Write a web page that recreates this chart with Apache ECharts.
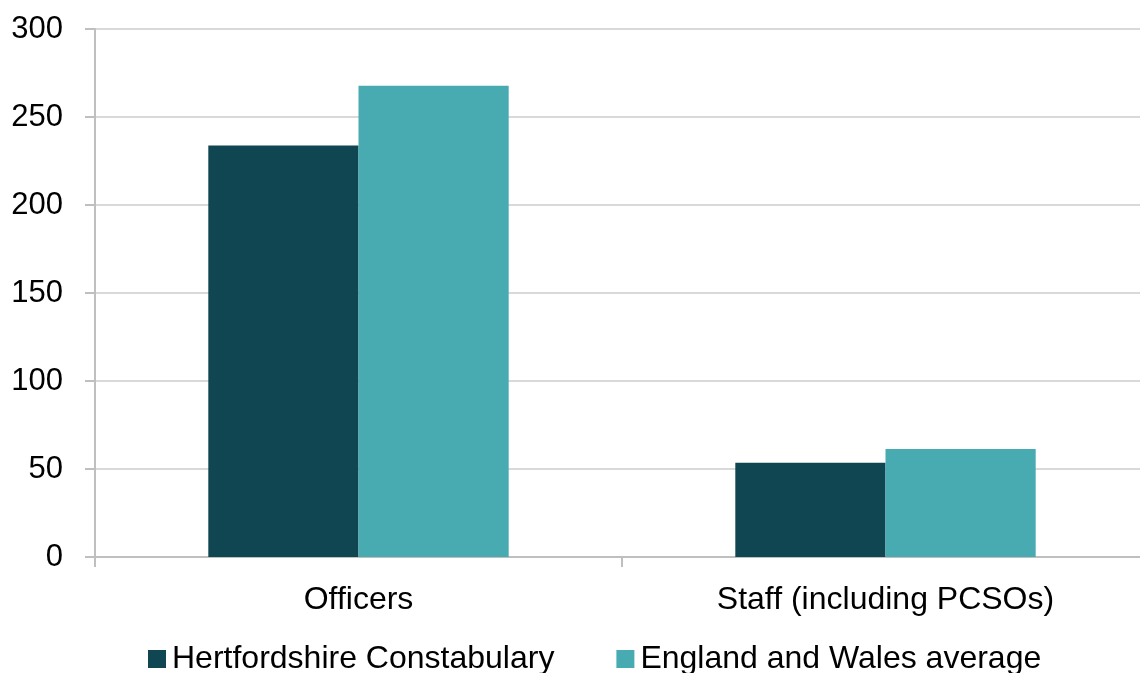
<!DOCTYPE html>
<html><head><meta charset="utf-8">
<script src="https://cdn.jsdelivr.net/npm/echarts@6/dist/echarts.min.js"></script>
<style>html,body{margin:0;padding:0;background:#fff;overflow:hidden;width:1140px;height:673px}#c{width:1149px;height:673px}</style>
</head><body><div id="c"></div>
<script>
const categories = ['Officers', 'Staff (including PCSOs)'];
const seriesNames = ['Hertfordshire Constabulary', 'England and Wales average'];
const hertsValues = [233.8, 53.6];
const ewValues = [267.8, 61.4];
const yTicks = [0, 50, 100, 150, 200, 250, 300];

const chart = echarts.init(document.getElementById('c'));
const font = 'Liberation Sans, Arial, sans-serif';
chart.setOption({
  animation: false,
  grid: { left: 95, right: 0, top: 29, bottom: 116, containLabel: false },
  legend: {
    top: 638, left: 143, itemWidth: 18, itemHeight: 18, itemGap: 62,
    icon: 'rect',
    textStyle: { fontFamily: font, fontSize: 32, color: '#000', padding: [0, 0, 0, 1] },
    data: seriesNames
  },
  xAxis: {
    type: 'category', data: categories,
    axisLine: { lineStyle: { color: '#bfbfbf', width: 2 } },
    axisTick: { show: true, length: 10, lineStyle: { color: '#bfbfbf', width: 2 } },
    axisLabel: { fontFamily: font, fontSize: 32, color: '#000', margin: 27 }
  },
  yAxis: {
    type: 'value', min: yTicks[0], max: yTicks[yTicks.length - 1], interval: 50,
    axisLine: { show: true, lineStyle: { color: '#bfbfbf', width: 2 } },
    axisTick: { show: true, length: 10, lineStyle: { color: '#bfbfbf', width: 2 } },
    splitLine: { lineStyle: { color: '#d9d9d9', width: 2 } },
    axisLabel: { fontFamily: font, fontSize: 31, color: '#000', margin: 32 }
  },
  series: [
    { name: seriesNames[0], type: 'bar', data: hertsValues, barWidth: '28.5%', barGap: '0%',
      itemStyle: { color: '#0f4651' } },
    { name: seriesNames[1], type: 'bar', data: ewValues, barWidth: '28.5%', barGap: '0%',
      itemStyle: { color: '#48abb1' } }
  ]
});
</script></body></html>
